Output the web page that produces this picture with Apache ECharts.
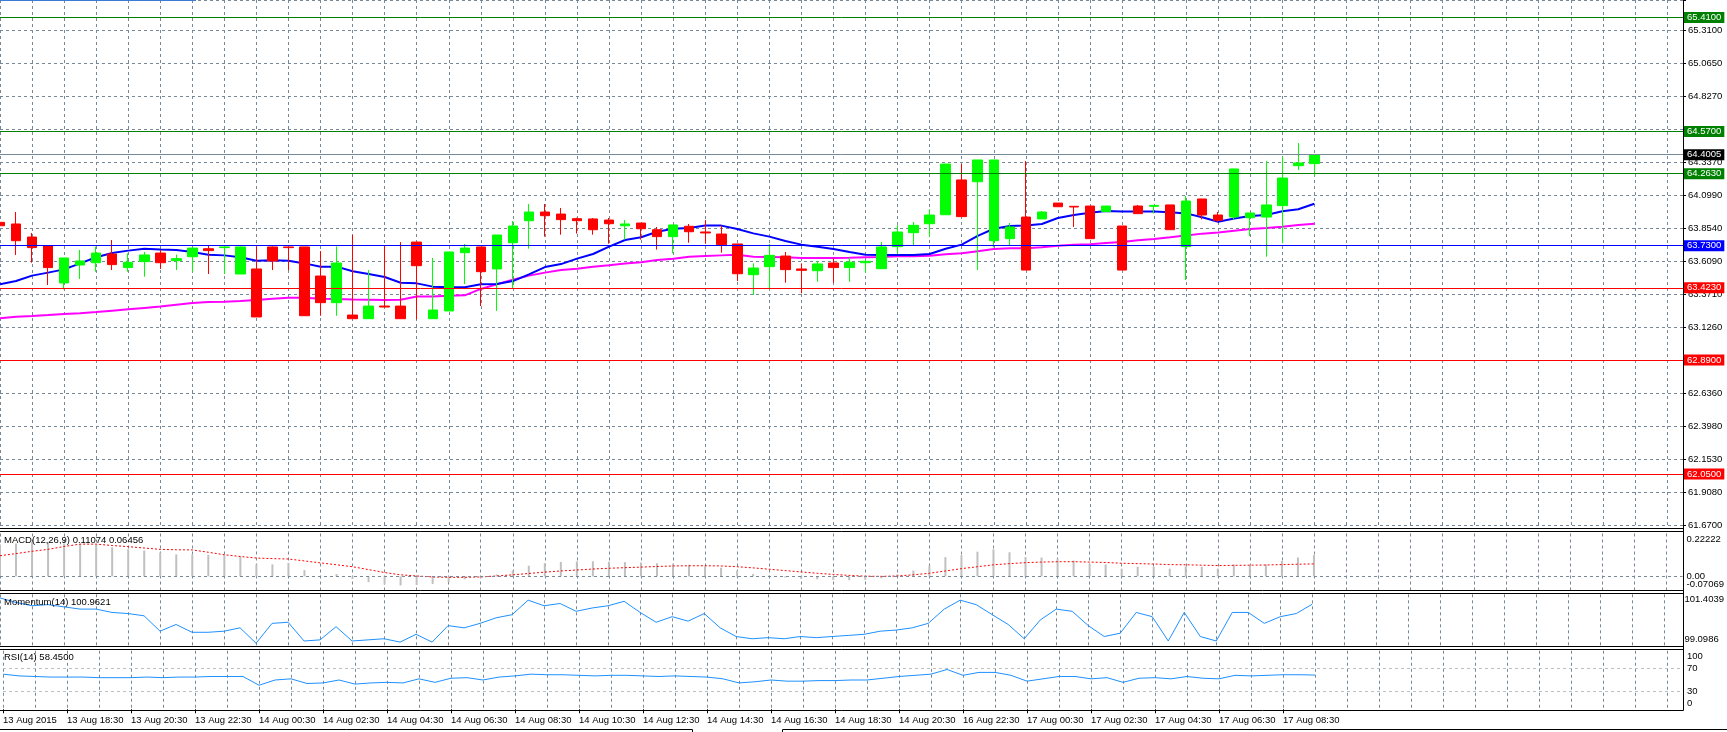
<!DOCTYPE html>
<html><head><meta charset="utf-8">
<script src="https://cdn.jsdelivr.net/npm/echarts@6/dist/echarts.min.js"></script>
<style>html,body{margin:0;padding:0;background:#fff;overflow:hidden}#c{width:1727px;height:732px}</style>
</head><body><div id="c"></div>
<script>
const FONT = 'Liberation Sans';
const FS = 9.5;
const GRIDC = '#778899';

const xTickLabels = ['13 Aug 2015','13 Aug 18:30','13 Aug 20:30','13 Aug 22:30','14 Aug 00:30','14 Aug 02:30','14 Aug 04:30','14 Aug 06:30','14 Aug 08:30','14 Aug 10:30','14 Aug 12:30','14 Aug 14:30','14 Aug 16:30','14 Aug 18:30','14 Aug 20:30','16 Aug 22:30','17 Aug 00:30','17 Aug 02:30','17 Aug 04:30','17 Aug 06:30','17 Aug 08:30'];

const priceTickLabels = ['61.6700','61.9080','62.1530','62.3980','62.6360','62.8810','63.1260','63.3710','63.6090','63.8540','64.0990','64.3370','64.5820','64.8270','65.0650','65.3100'];

const candleOpen = [63.902,63.890,63.794,63.730,63.456,63.588,63.605,63.669,63.569,63.613,
63.676,63.620,63.649,63.708,63.716,63.522,63.559,63.721,63.721,63.721,
63.507,63.311,63.220,63.193,63.286,63.286,63.757,63.193,63.250,63.679,
63.721,63.559,63.752,63.914,63.978,63.963,63.929,63.927,63.919,63.877,
63.897,63.848,63.797,63.873,63.831,63.816,63.743,63.517,63.576,63.654,
63.559,63.546,63.603,63.569,63.605,63.561,63.723,63.826,63.892,63.958,
64.214,64.201,63.767,63.782,63.941,63.927,64.044,64.020,64.022,63.981,
63.875,64.022,64.020,64.030,63.723,64.074,63.956,63.941,63.936,63.941,
64.025,64.319,64.334];
const candleClose = [63.877,63.767,63.716,63.569,63.640,63.618,63.676,63.591,63.608,63.662,
63.605,63.635,63.713,63.694,63.721,63.721,63.206,63.618,63.716,63.215,
63.311,63.603,63.193,63.286,63.279,63.193,63.583,63.257,63.684,63.713,
63.539,63.809,63.875,63.978,63.951,63.922,63.914,63.848,63.892,63.890,
63.855,63.797,63.883,63.833,63.824,63.738,63.524,63.566,63.659,63.554,
63.549,63.596,63.569,63.608,63.615,63.721,63.831,63.880,63.956,64.331,
63.944,64.361,64.361,63.868,63.551,63.978,64.017,64.015,63.782,64.022,
63.551,63.966,64.027,63.848,64.059,63.956,63.917,64.295,63.971,64.030,
64.228,64.339,64.4005];
const candleLow = [63.703,63.662,63.605,63.441,63.409,63.485,63.539,63.551,63.539,63.502,
63.559,63.551,63.539,63.522,63.522,63.522,63.206,63.551,63.551,63.215,
63.215,63.215,63.193,63.193,63.279,63.193,63.188,63.193,63.250,63.448,
63.286,63.250,63.419,63.708,63.797,63.811,63.819,63.811,63.745,63.775,
63.775,63.701,63.674,63.752,63.745,63.679,63.470,63.367,63.409,63.458,
63.380,63.465,63.458,63.465,63.532,63.561,63.674,63.728,63.797,63.958,
63.944,63.551,63.718,63.735,63.551,63.927,64.017,63.868,63.782,63.981,
63.551,63.966,63.968,63.848,63.478,63.924,63.905,63.924,63.802,63.649,
63.748,64.287,64.245];
const candleHigh = [63.961,63.978,63.824,63.735,63.640,63.699,63.723,63.772,63.674,63.684,
63.699,63.664,63.713,63.728,63.728,63.725,63.725,63.725,63.721,63.721,
63.691,63.725,63.809,63.551,63.735,63.757,63.757,63.640,63.684,63.743,
63.721,63.809,63.912,64.037,64.037,64.008,63.936,63.934,63.934,63.919,
63.897,63.868,63.883,63.890,63.919,63.878,63.743,63.600,63.743,63.684,
63.600,63.618,63.637,63.642,63.620,63.757,63.880,63.905,63.998,64.331,
64.331,64.361,64.361,63.897,64.353,63.985,64.044,64.020,64.022,64.022,
63.875,64.030,64.027,64.030,64.096,64.074,63.978,64.295,63.971,64.353,
64.385,64.486,64.405];

const maFast = [63.446,63.470,63.510,63.532,63.556,63.600,63.645,63.676,63.694,63.708,
63.703,63.699,63.684,63.664,63.659,63.645,63.620,63.623,63.620,63.600,
63.576,63.576,63.542,63.522,63.500,63.458,63.453,63.429,63.424,63.424,
63.446,63.448,63.470,63.519,63.573,63.595,63.635,63.669,63.723,63.772,
63.792,63.833,63.855,63.860,63.878,63.878,63.853,63.821,63.797,63.765,
63.738,63.723,63.706,63.684,63.664,63.662,63.662,63.662,63.669,63.708,
63.738,63.802,63.855,63.875,63.878,63.890,63.934,63.956,63.973,63.985,
63.981,63.981,63.981,63.976,63.968,63.939,63.907,63.931,63.949,63.956,
63.983,63.998,64.039];
const maSlow = [63.196,63.208,63.213,63.220,63.228,63.233,63.242,63.252,63.262,63.272,
63.282,63.296,63.309,63.316,63.318,63.323,63.331,63.340,63.348,63.348,
63.340,63.338,63.335,63.333,63.331,63.333,63.357,63.357,63.362,63.365,
63.412,63.446,63.480,63.510,63.532,63.551,63.561,63.576,63.586,63.600,
63.608,63.625,63.635,63.649,63.654,63.659,63.664,63.649,63.647,63.645,
63.640,63.640,63.640,63.642,63.645,63.647,63.652,63.652,63.657,63.667,
63.674,63.689,63.706,63.711,63.711,63.718,63.730,63.738,63.740,63.750,
63.757,63.770,63.779,63.792,63.806,63.819,63.828,63.841,63.853,63.860,
63.870,63.883,63.892];

const levelValues = [65.41, 64.57, 64.4005, 64.263, 63.73, 63.423, 62.89, 62.05];
const levelLabels = ['65.4100','64.5700','64.4005','64.2630','63.7300','63.4230','62.8900','62.0500'];
const levelColors = ['#008000','#008000','#778899','#008000','#0000ff','#ff0000','#ff0000','#ff0000'];
const levelBoxColors = ['#008000','#008000','#000000','#008000','#0000ff','#ff0000','#ff0000','#ff0000'];

const macdHist = [0.165,0.1705,0.179,0.174,0.1705,0.167,0.164,0.1505,0.140,0.134,
0.124,0.114,0.114,0.112,0.109,0.104,0.062,0.062,0.070,0.032,
0.003,0.012,-0.013,-0.030,-0.042,-0.047,-0.045,-0.040,-0.030,-0.015,
-0.008,0.010,0.030,0.055,0.068,0.075,0.078,0.078,0.076,0.074,
0.072,0.068,0.066,0.060,0.052,0.045,0.030,0.012,0.004,-0.006,
-0.012,-0.015,-0.018,-0.020,-0.018,-0.010,0.010,0.030,0.055,0.100,
0.110,0.128,0.140,0.125,0.100,0.098,0.092,0.082,0.066,0.062,
0.040,0.050,0.050,0.040,0.052,0.050,0.040,0.062,0.060,0.062,
0.080,0.098,0.11074];
const macdSignal = [0.107,0.118,0.130,0.140,0.155,0.167,0.167,0.160,0.154,0.147,
0.140,0.138,0.137,0.125,0.112,0.103,0.095,0.092,0.090,0.080,
0.070,0.060,0.050,0.035,0.020,0.008,0.002,-0.003,-0.005,-0.005,
-0.003,0.002,0.008,0.015,0.022,0.028,0.033,0.038,0.042,0.045,
0.048,0.051,0.054,0.055,0.055,0.054,0.050,0.044,0.037,0.030,
0.023,0.016,0.010,0.005,0.001,0.000,0.002,0.008,0.016,0.028,
0.040,0.050,0.060,0.066,0.071,0.074,0.076,0.076,0.074,0.072,
0.068,0.066,0.064,0.061,0.060,0.058,0.056,0.057,0.058,0.059,
0.061,0.063,0.06456];

const momentum = [101.24,101.04,100.89,100.94,100.84,100.74,100.74,100.59,100.54,100.44,
99.75,100.05,99.70,99.70,99.75,99.90,99.21,100.10,100.15,99.31,
99.36,99.95,99.31,99.36,99.41,99.26,99.61,99.26,100.00,99.90,
100.10,100.35,100.49,101.14,100.89,100.99,100.64,100.79,100.89,101.09,
100.59,100.15,100.40,100.20,100.54,99.90,99.51,99.41,99.46,99.41,
99.51,99.46,99.51,99.56,99.61,99.75,99.80,99.90,100.10,100.74,
101.14,100.94,100.49,100.05,99.41,100.25,100.74,100.64,100.00,99.51,
99.66,100.59,100.40,99.31,100.59,99.51,99.31,100.59,100.59,100.10,
100.40,100.54,100.9621];
const rsi = [60,57,56,55,55,55,54,54,54,55,
54,55,55,56,56,56,41,50,52,44,
45,50,43,45,46,45,52,46,53,54,
50,55,57,60,59,59,58,57,58,58,
57,56,57,56,55,52,45,47,50,48,
48,49,49,50,50,53,56,58,60,68,
58,63,63,58,48,52,56,56,52,54,
46,53,54,52,56,53,52,58,57,58,
59,59,58.45];

const SLOTS = 106;
const cats = Array.from({length: SLOTS}, (_, i) => String(i));

const PRICE_MIN = 61.67, PRICE_STEP = 61.67 / 254, PRICE_MAX = 65.538;
const MACD_MIN = -0.07069, MACD_MAX = 0.22222;
const MOM_MIN = 99.0986, MOM_MAX = 101.4039;

const G = [
  {left: 0, right: 44, top: 0, height: 525.7},
  {left: 0, right: 44, top: 533.5, height: 56.5},
  {left: 0, right: 44, top: 594.3, height: 51.4},
  {left: 0, right: 44, top: 650.75, height: 58.5}
];

function xAx(i, bottom) {
  return {
    gridIndex: i, type: 'category', data: cats, boundaryGap: false,
    axisLine: {show: false},
    axisTick: bottom ? {show: true, length: 4, interval: (idx) => idx % 4 === 0 && idx <= 80, lineStyle: {color: '#000'}} : {show: false},
    axisLabel: bottom ? {
      show: true, interval: 3, align: 'left', margin: 6, color: '#000', fontFamily: FONT, fontSize: FS,
      formatter: (v, idx) => (idx % 4 === 0 && xTickLabels[idx / 4]) ? xTickLabels[idx / 4] : ''
    } : {show: false},
    splitLine: {show: true, interval: (idx) => idx % 2 === 0, lineStyle: {color: GRIDC, type: [3, 3], width: 1}}
  };
}
const richBase = {fontFamily: FONT, fontSize: FS, color: '#000'};
function subAxisLabel(fn) {
  return {show: true, showMinLabel: true, showMaxLabel: true, hideOverlap: false, margin: 4, color: '#000', fontFamily: FONT, fontSize: FS, formatter: fn,
    rich: {t: Object.assign({padding: [11, 0, 0, 0]}, richBase), b: Object.assign({padding: [0, 0, 12, 0]}, richBase), m: richBase}};
}
function subAxis(grid, min, max, interval, fn) {
  return {gridIndex: grid, type: 'value', position: 'right', min: min, max: max, interval: interval,
    axisLine: {show: false}, axisTick: {show: false}, splitLine: {show: false}, axisLabel: subAxisLabel(fn)};
}
const near = (a, b, eps) => Math.abs(a - b) < eps;
const FONTSTR = FS + 'px "' + FONT + '"';

const option = {
  animation: false,
  backgroundColor: '#ffffff',
  grid: G,
  xAxis: [xAx(0, false), xAx(1, false), xAx(2, false), xAx(3, true)],
  yAxis: [
    {gridIndex: 0, type: 'value', position: 'right', min: PRICE_MIN, max: PRICE_MAX, interval: PRICE_STEP,
      axisLine: {show: false}, axisTick: {show: true, length: 3, lineStyle: {color: '#000'}},
      axisLabel: {margin: 5, color: '#000', fontFamily: FONT, fontSize: FS, showMinLabel: true, formatter: v => {
        const k = Math.round((v - PRICE_MIN) / PRICE_STEP);
        return (k >= 0 && k < priceTickLabels.length && near(PRICE_MIN + k * PRICE_STEP, v, PRICE_STEP * 0.05)) ? priceTickLabels[k] : '';
      }},
      splitLine: {show: true, lineStyle: {color: GRIDC, type: [3, 3]}}},
    subAxis(1, MACD_MIN, MACD_MAX, -MACD_MIN, v => near(v, MACD_MAX, 1e-6) ? '{t|0.22222}' : near(v, MACD_MIN, 1e-6) ? '{b|-0.07069}' : ''),
    subAxis(2, MOM_MIN, MOM_MAX, MOM_MIN, v => near(v, MOM_MAX, 1e-4) ? '{t|101.4039}' : near(v, MOM_MIN, 1e-4) ? '{b|99.0986}' : ''),
    subAxis(3, 0, 100, 10, v => v === 100 ? '{t|100}' : v === 0 ? '{b|0}' : (v === 70 || v === 30) ? '{m|' + v + '}' : ''),
    subAxis(1, MACD_MIN, MACD_MAX, -MACD_MIN, v => near(v, 0, 1e-6) ? '{m|0.00}' : '')
  ],
  series: [
    {type: 'line', name: 'maSlow', xAxisIndex: 0, yAxisIndex: 0, data: maSlow, symbol: 'none', z: 2,
      lineStyle: {color: '#ff00ff', width: 2}},
    {type: 'line', name: 'maFast', xAxisIndex: 0, yAxisIndex: 0, data: maFast, symbol: 'none', z: 2,
      lineStyle: {color: '#0000ff', width: 2}},
    {type: 'candlestick', xAxisIndex: 0, yAxisIndex: 0, z: 3, barWidth: 10, clip: false,
      data: candleOpen.map((o, i) => [o, candleClose[i], candleLow[i], candleHigh[i]]),
      itemStyle: {color: '#00ff00', color0: '#ff0000', borderColor: '#00ff00', borderColor0: '#ff0000', borderWidth: 1}},
    {type: 'line', name: 'levels', xAxisIndex: 0, yAxisIndex: 0, data: [], z: 4, clip: false,
      markLine: {silent: true, symbol: 'none', animation: false,
        data: levelValues.map((v, i) => ({yAxis: v,
          lineStyle: {color: levelColors[i], width: 1, type: 'solid'},
          label: {show: true, position: 'end', distance: 1, formatter: levelLabels[i], color: '#fff',
            backgroundColor: levelBoxColors[i], fontFamily: FONT, fontSize: FS, padding: [1, 3, 0, 3], lineHeight: 10}}))}},
    {type: 'bar', xAxisIndex: 1, yAxisIndex: 1, data: macdHist, barWidth: 2, itemStyle: {color: '#c0c0c0'},
      markLine: {silent: true, symbol: 'none', label: {show: false},
        data: [{yAxis: 0, lineStyle: {color: GRIDC, type: [3, 3], width: 1}}]}},
    {type: 'line', xAxisIndex: 1, yAxisIndex: 1, data: macdSignal, symbol: 'none',
      lineStyle: {color: '#ff0000', width: 1, type: [2, 2]}},
    {type: 'line', xAxisIndex: 2, yAxisIndex: 2, data: momentum, symbol: 'none',
      lineStyle: {color: '#1e90ff', width: 1}},
    {type: 'line', xAxisIndex: 3, yAxisIndex: 3, data: rsi, symbol: 'none',
      lineStyle: {color: '#1e90ff', width: 1},
      markLine: {silent: true, symbol: 'none', label: {show: false},
        data: [{yAxis: 70}, {yAxis: 30}], lineStyle: {color: '#c0c0c0', type: [3, 3], width: 1}}}
  ],
  graphic: [
    ...[528.5, 531.5, 590.5, 593.5, 646.5, 649.5, 710.5].map(y => ({type: 'line', silent: true, z: 10,
      shape: {x1: 0, y1: y, x2: 1683.5, y2: y}, style: {stroke: '#000', lineWidth: 1}})),
    {type: 'line', silent: true, z: 10, shape: {x1: 1683.5, y1: 0, x2: 1683.5, y2: 710.5}, style: {stroke: '#000', lineWidth: 1}},
    {type: 'line', silent: true, z: 10, shape: {x1: 0, y1: 0.5, x2: 196, y2: 0.5}, style: {stroke: '#3a7bd5', lineWidth: 1}},
    {type: 'polyline', silent: true, z: 10, shape: {points: [[0, 729.5], [692.5, 729.5], [692.5, 732]]}, style: {stroke: '#000', lineWidth: 1, fill: null}},
    {type: 'polyline', silent: true, z: 10, shape: {points: [[782.5, 732], [782.5, 729.5], [1727, 729.5]]}, style: {stroke: '#000', lineWidth: 1, fill: null}},
    {type: 'text', left: 4, top: 535, silent: true, z: 11, style: {text: 'MACD(12,26,9) 0.11074 0.06456', fill: '#000', font: FONTSTR}},
    {type: 'text', left: 4, top: 597, silent: true, z: 11, style: {text: 'Momentum(14) 100.9621', fill: '#000', font: FONTSTR}},
    {type: 'text', left: 4, top: 652, silent: true, z: 11, style: {text: 'RSI(14) 58.4500', fill: '#000', font: FONTSTR}}
  ]
};
const chart = echarts.init(document.getElementById('c'), null, {renderer: 'canvas'});
chart.setOption(option);
</script></body></html>
